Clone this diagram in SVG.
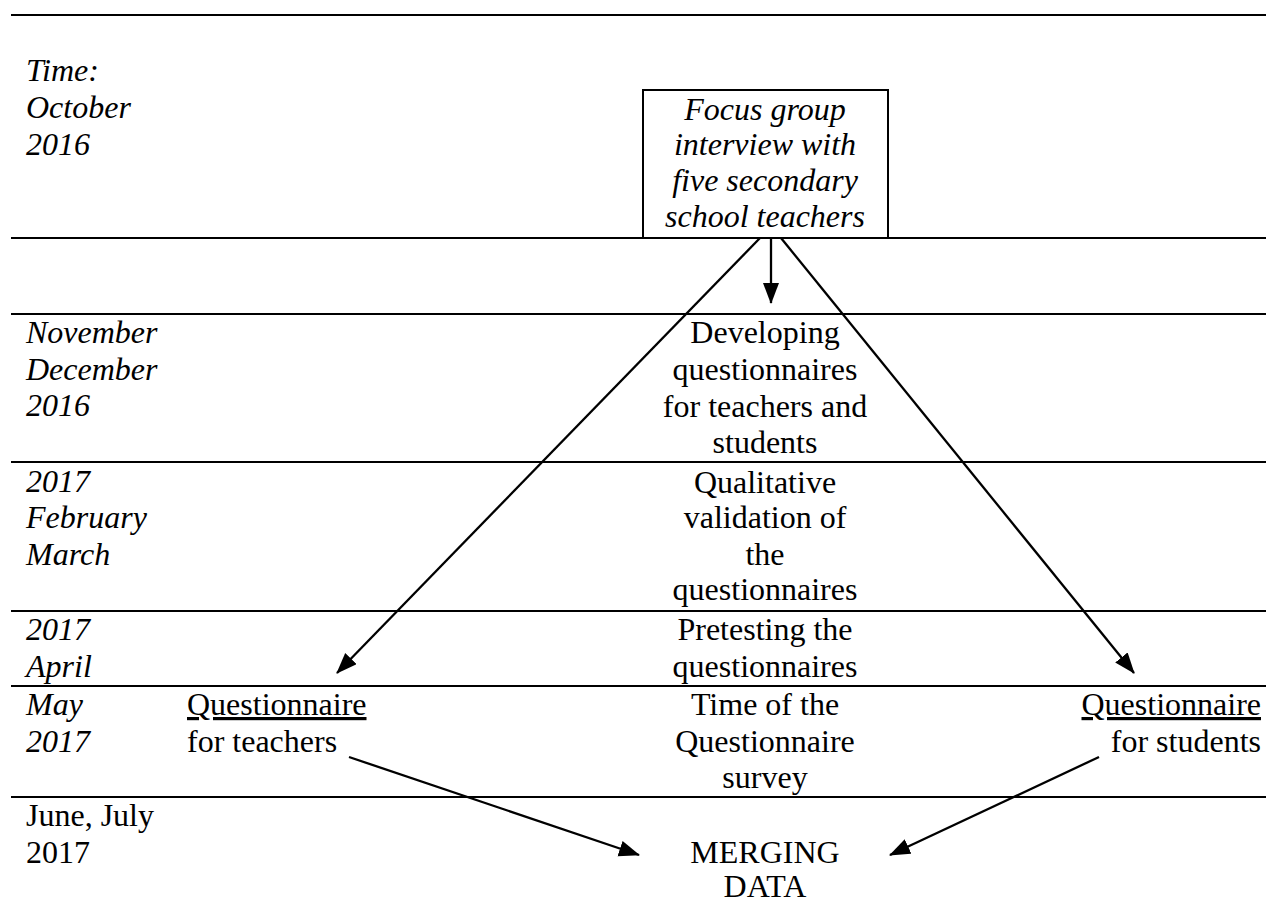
<svg xmlns="http://www.w3.org/2000/svg" width="1266" height="903" viewBox="0 0 1266 903">
  <style>
    .t { font-family: "Liberation Serif", "Times New Roman", serif; font-size: 32px; fill: #000; }
    .i { font-style: italic; }
    .c { text-anchor: middle; }
    .r { text-anchor: end; }
    .u { text-decoration: underline; }
    .rule { stroke: #000; stroke-width: 2.2; }
    .conn { stroke: #000; stroke-width: 2.3; fill: none; marker-end: url(#arrow); }
  </style>
  <defs>
    <marker id="arrow" markerUnits="userSpaceOnUse" markerWidth="24" markerHeight="18" refX="20" refY="8" orient="auto">
      <path d="M0,0 L21,8 L0,16 z" fill="#000"/>
    </marker>
  </defs>
  <rect width="1266" height="903" fill="#fff"/>

  <g id="rules">
    <line class="rule" x1="11" y1="15" x2="1266" y2="15"/>
    <line class="rule" x1="11" y1="238" x2="1266" y2="238"/>
    <line class="rule" x1="11" y1="314" x2="1266" y2="314"/>
    <line class="rule" x1="11" y1="462" x2="1266" y2="462"/>
    <line class="rule" x1="11" y1="611" x2="1266" y2="611"/>
    <line class="rule" x1="11" y1="686" x2="1266" y2="686"/>
    <line class="rule" x1="11" y1="797" x2="1266" y2="797"/>
  </g>

  <g id="time-labels">
    <text class="t i" x="26" y="81">Time:</text>
    <text class="t i" x="26" y="118">October</text>
    <text class="t i" x="26" y="155">2016</text>
    <text class="t i" x="26" y="343">November</text>
    <text class="t i" x="26" y="380">December</text>
    <text class="t i" x="26" y="416">2016</text>
    <text class="t i" x="26" y="492">2017</text>
    <text class="t i" x="26" y="528">February</text>
    <text class="t i" x="26" y="565">March</text>
    <text class="t i" x="26" y="640">2017</text>
    <text class="t i" x="26" y="677">April</text>
    <text class="t i" x="26" y="715">May</text>
    <text class="t i" x="26" y="752">2017</text>
    <text class="t" x="26" y="826">June, July</text>
    <text class="t" x="26" y="863">2017</text>
  </g>

  <g id="focus-group">
    <rect x="643" y="90" width="245" height="148" fill="#fff" stroke="#000" stroke-width="2"/>
    <text class="t i c" x="765" y="120">Focus group</text>
    <text class="t i c" x="765" y="155">interview with</text>
    <text class="t i c" x="765" y="191">five secondary</text>
    <text class="t i c" x="765" y="227">school teachers</text>
  </g>

  <g id="developing">
    <text class="t c" x="765" y="343">Developing</text>
    <text class="t c" x="765" y="380">questionnaires</text>
    <text class="t c" x="765" y="417">for teachers and</text>
    <text class="t c" x="765" y="453">students</text>
  </g>

  <g id="validation">
    <text class="t c" x="765" y="493">Qualitative</text>
    <text class="t c" x="765" y="528">validation of</text>
    <text class="t c" x="765" y="565">the</text>
    <text class="t c" x="765" y="600">questionnaires</text>
  </g>

  <g id="pretesting">
    <text class="t c" x="765" y="640">Pretesting the</text>
    <text class="t c" x="765" y="677">questionnaires</text>
  </g>

  <g id="survey-time">
    <text class="t c" x="765" y="715">Time of the</text>
    <text class="t c" x="765" y="752">Questionnaire</text>
    <text class="t c" x="765" y="788">survey</text>
  </g>

  <g id="q-teachers">
    <text class="t u" x="187" y="715">Questionnaire</text>
    <text class="t" x="187" y="752">for teachers</text>
  </g>

  <g id="q-students">
    <text class="t r u" x="1261" y="715">Questionnaire</text>
    <text class="t r" x="1261" y="752">for students</text>
  </g>

  <g id="merging">
    <text class="t c" x="765" y="863">MERGING</text>
    <text class="t c" x="765" y="897">DATA</text>
  </g>

  <g id="connectors">
    <line class="conn" x1="771" y1="238" x2="771" y2="303"/>
    <line class="conn" x1="760" y1="238" x2="337" y2="673"/>
    <line class="conn" x1="781" y1="238" x2="1134" y2="673"/>
    <line class="conn" x1="349" y1="757" x2="639" y2="855"/>
    <line class="conn" x1="1099" y1="757" x2="890" y2="855"/>
  </g>
</svg>
